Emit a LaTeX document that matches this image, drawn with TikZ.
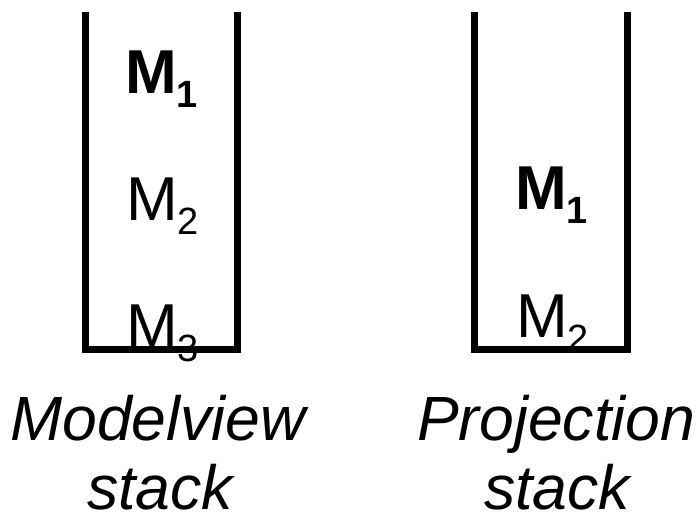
\documentclass[tikz,border=0pt]{standalone}
\usepackage{fontspec}
\setmainfont{Liberation Sans}
\newcommand{\mlab}[1]{\fontsize{62}{62}\selectfont M\raisebox{-14pt}{\fontsize{38}{38}\selectfont #1}}
\newcommand{\slab}[1]{{\fontsize{62.5}{62.5}\selectfont\itshape #1}}
\begin{document}
\begin{tikzpicture}[x=1pt,y=-1pt,
  wall/.style={line width=7pt,line join=miter},
  mnode/.style={anchor=base west,inner sep=0pt},
  lab/.style={anchor=base,inner sep=0pt}]
\useasboundingbox (0,0) rectangle (700,517);
% containers
\coordinate (a1) at (85,12);
\coordinate (a2) at (85,349);
\coordinate (a3) at (237,349);
\coordinate (a4) at (237,12);
\draw[wall] (a1) -- (a2) -- (a3) -- (a4);
\coordinate (b1) at (474.5,12);
\coordinate (b2) at (474.5,349);
\coordinate (b3) at (627.5,349);
\coordinate (b4) at (627.5,12);
\draw[wall] (b1) -- (b2) -- (b3) -- (b4);
% matrices
\node[mnode] (l1) at (125,93) {\bfseries\mlab{1}};
\node[mnode] (l2) at (126,220) {\mlab{2}};
\node[mnode] (l3) at (126,347) {\mlab{3}};
\node[mnode] (r1) at (515,209) {\bfseries\mlab{1}};
\node[mnode] (r2) at (516,337) {\mlab{2}};
% labels
\node[lab] (t1) at (158,440) {\slab{Modelview}};
\node[lab,text depth=0pt] (t2) at (160,509) {\slab{stack}};
\node[lab] (t3) at (556,440) {\slab{Projection}};
\node[lab,text depth=0pt] (t4) at (557,509) {\slab{stack}};
\end{tikzpicture}
\end{document}
